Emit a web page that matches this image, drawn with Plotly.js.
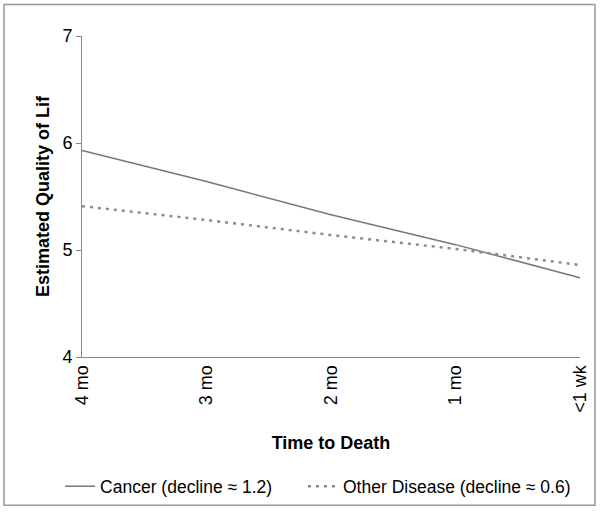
<!DOCTYPE html>
<html>
<head>
<meta charset="utf-8">
<script src="https://cdn.plot.ly/plotly-3.0.1.min.js"></script>
<style>html,body{margin:0;padding:0;background:#fff}#chart{width:600px;height:517px}</style>
</head>
<body>
<div id="chart"></div>
<script>
const categories = ["4 mo", "3 mo", "2 mo", "1 mo", "<1 wk"];
const cancerValues = [5.93, 5.64, 5.33, 5.05, 4.74];
const otherValues = [5.41, 5.28, 5.14, 5.01, 4.86];
const cancerName = "Cancer (decline \u2248 1.2)";
const otherName = "Other Disease (decline \u2248 0.6)";
const xIdx = categories.map((c, i) => i);

const traces = [
  {x: xIdx, y: cancerValues, name: cancerName, type: "scatter", mode: "lines",
   legend: "legend",
   line: {color: "#777777", width: 1.5}},
  {x: xIdx, y: otherValues, name: otherName, type: "scatter", mode: "lines",
   legend: "legend2",
   line: {color: "#8c8c8c", width: 2.5, dash: "3px,5px"}}
];

const layout = {
  width: 600, height: 517,
  margin: {l: 82, r: 20, t: 36, b: 156},
  paper_bgcolor: "#fff", plot_bgcolor: "#fff",
  font: {family: "Liberation Sans, Arial, sans-serif", color: "#000", size: 18},
  showlegend: true,
  legend: {orientation: "h", x: -0.044, xanchor: "left", y: -0.403, yanchor: "middle",
           font: {size: 17.5}},
  legend2: {orientation: "h", x: 0.4438, xanchor: "left", y: -0.403, yanchor: "middle",
           font: {size: 17.5}},
  xaxis: {
    range: [0, 4], tickmode: "array", tickvals: xIdx, ticktext: categories,
    tickangle: -90, showgrid: false, zeroline: false, automargin: false,
    showline: true, linecolor: "#888", linewidth: 1, ticks: "",
    tickfont: {size: 18},
    title: {text: "<b>Time to Death</b>", font: {size: 18}, standoff: 24}
  },
  yaxis: {
    range: [4, 7], tickvals: [4, 5, 6, 7], showgrid: false, zeroline: false, automargin: false,
    showline: true, linecolor: "#888", linewidth: 1,
    ticks: "outside", ticklen: 5, tickcolor: "#888",
    tickfont: {size: 18},
    title: {text: "<b>Estimated Quality of Lif</b>", font: {size: 18}, standoff: 8}
  },
  shapes: [
    {type: "rect", xref: "paper", yref: "paper",
     x0: -0.1566, x1: 1.030, y0: -0.4615, y1: 1.098,
     line: {color: "#999", width: 1.5}}
  ]
};

Plotly.newPlot("chart", traces, layout, {staticPlot: true, displayModeBar: false});
</script>
</body>
</html>
